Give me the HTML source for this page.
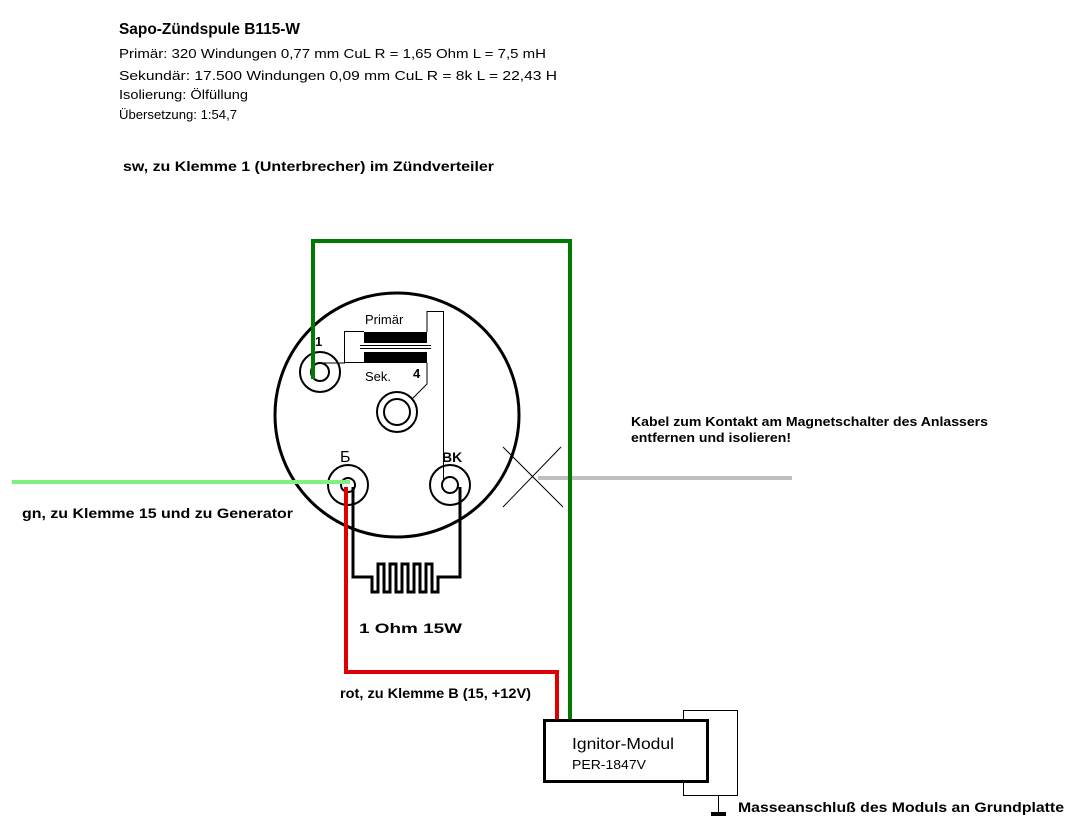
<!DOCTYPE html>
<html><head><meta charset="utf-8"><style>
body{margin:0;background:#fff;}
svg{display:block;font-family:"Liberation Sans",Arial,sans-serif;}
</style></head><body>
<svg width="1071" height="836" viewBox="0 0 1071 836" xmlns="http://www.w3.org/2000/svg">
<rect width="1071" height="836" fill="#fff"/>
<text x="119" y="34" font-size="15.5" font-weight="bold" textLength="181" lengthAdjust="spacingAndGlyphs">Sapo-Zündspule B115-W</text>
<text x="119" y="58" font-size="13" textLength="427" lengthAdjust="spacingAndGlyphs">Primär: 320 Windungen 0,77 mm CuL R = 1,65 Ohm L = 7,5 mH</text>
<text x="119" y="80" font-size="13" textLength="438" lengthAdjust="spacingAndGlyphs">Sekundär: 17.500 Windungen 0,09 mm CuL R = 8k L = 22,43 H</text>
<text x="119" y="99" font-size="13" textLength="129" lengthAdjust="spacingAndGlyphs">Isolierung: Ölfüllung</text>
<text x="119" y="119" font-size="13" textLength="118" lengthAdjust="spacingAndGlyphs">Übersetzung: 1:54,7</text>
<text x="123" y="171" font-size="14" font-weight="bold" textLength="371" lengthAdjust="spacingAndGlyphs">sw, zu Klemme 1 (Unterbrecher) im Zündverteiler</text>

<circle cx="397" cy="415" r="122" fill="none" stroke="#000" stroke-width="3"/>
<circle cx="320" cy="372" r="20" fill="none" stroke="#000" stroke-width="2"/>
<circle cx="320" cy="372" r="9" fill="none" stroke="#000" stroke-width="2"/>
<circle cx="397" cy="412" r="20" fill="none" stroke="#000" stroke-width="2"/>
<circle cx="397" cy="412" r="13" fill="none" stroke="#000" stroke-width="2"/>
<circle cx="348" cy="485" r="20" fill="none" stroke="#000" stroke-width="2"/>
<circle cx="348" cy="485" r="7" fill="none" stroke="#000" stroke-width="2"/>
<circle cx="450" cy="485" r="20" fill="none" stroke="#000" stroke-width="2"/>
<circle cx="450" cy="485" r="8" fill="none" stroke="#000" stroke-width="2"/>
<rect x="364" y="332" width="63" height="11" fill="#000"/>
<rect x="364" y="352" width="63" height="11" fill="#000"/>
<line x1="360" y1="345.5" x2="431" y2="345.5" stroke="#000" stroke-width="1"/>
<line x1="360" y1="348.5" x2="431" y2="348.5" stroke="#000" stroke-width="1"/>
<polyline points="364,331.5 344.5,331.5 344.5,362.5 364,362.5" fill="none" stroke="#000" stroke-width="1"/>
<line x1="320" y1="363" x2="345" y2="363" stroke="#000" stroke-width="1"/>
<polyline points="427,332 427,311.5 443.5,311.5 443.5,480" fill="none" stroke="#000" stroke-width="1"/>
<polyline points="427,363 427,384 412,399" fill="none" stroke="#000" stroke-width="1"/>
<text x="365" y="324" font-size="13">Primär</text>
<text x="365" y="381" font-size="13">Sek.</text>
<text x="413" y="378" font-size="13" font-weight="bold">4</text>
<text x="315" y="346" font-size="13" font-weight="bold">1</text>
<text x="340" y="462" font-size="16">Б</text>
<text x="442" y="462" font-size="14" font-weight="bold">BK</text>

<line x1="503" y1="447" x2="563" y2="507" stroke="#000" stroke-width="1"/>
<line x1="503" y1="507" x2="561" y2="447" stroke="#000" stroke-width="1"/>
<line x1="538" y1="478" x2="792" y2="478" stroke="#c0c0c0" stroke-width="4"/>
<line x1="12" y1="482" x2="350" y2="482" stroke="#80f080" stroke-width="4"/>
<polyline points="313,379 313,241 570,241 570,720" fill="none" stroke="#007a00" stroke-width="4"/>
<path d="M353,487 V577 H372 V592 H378 V564 H384 V592 H390 V564 H396 V592 H402 V564 H408 V592 H414 V564 H420 V592 H426 V564 H432 V592 H438 V577 H460 V487" fill="none" stroke="#000" stroke-width="3"/>
<polyline points="346,487 346,672 557,672 557,720" fill="none" stroke="#e00000" stroke-width="4"/>

<text x="359" y="633" font-size="14" font-weight="bold" textLength="103" lengthAdjust="spacingAndGlyphs">1 Ohm 15W</text>
<text x="340" y="698" font-size="14" font-weight="bold" textLength="191" lengthAdjust="spacingAndGlyphs">rot, zu Klemme B (15, +12V)</text>
<text x="22" y="518" font-size="14" font-weight="bold" textLength="271" lengthAdjust="spacingAndGlyphs">gn, zu Klemme 15 und zu Generator</text>
<text x="631" y="426" font-size="13" font-weight="bold" textLength="357" lengthAdjust="spacingAndGlyphs">Kabel zum Kontakt am Magnetschalter des Anlassers</text>
<text x="631" y="442" font-size="13" font-weight="bold" textLength="160" lengthAdjust="spacingAndGlyphs">entfernen und isolieren!</text>

<rect x="683.5" y="710.5" width="54" height="85" fill="#fff" stroke="#000" stroke-width="1"/>
<rect x="544.5" y="720.5" width="163" height="61" fill="#fff" stroke="#000" stroke-width="3"/>
<text x="572" y="749" font-size="16" textLength="102" lengthAdjust="spacingAndGlyphs">Ignitor-Modul</text>
<text x="572" y="769" font-size="13" textLength="74" lengthAdjust="spacingAndGlyphs">PER-1847V</text>
<line x1="718.5" y1="795" x2="718.5" y2="812" stroke="#000" stroke-width="1"/>
<rect x="711" y="812" width="15" height="4" fill="#000"/>
<text x="738" y="812" font-size="14" font-weight="bold" textLength="326" lengthAdjust="spacingAndGlyphs">Masseanschluß des Moduls an Grundplatte</text>
</svg>
</body></html>
